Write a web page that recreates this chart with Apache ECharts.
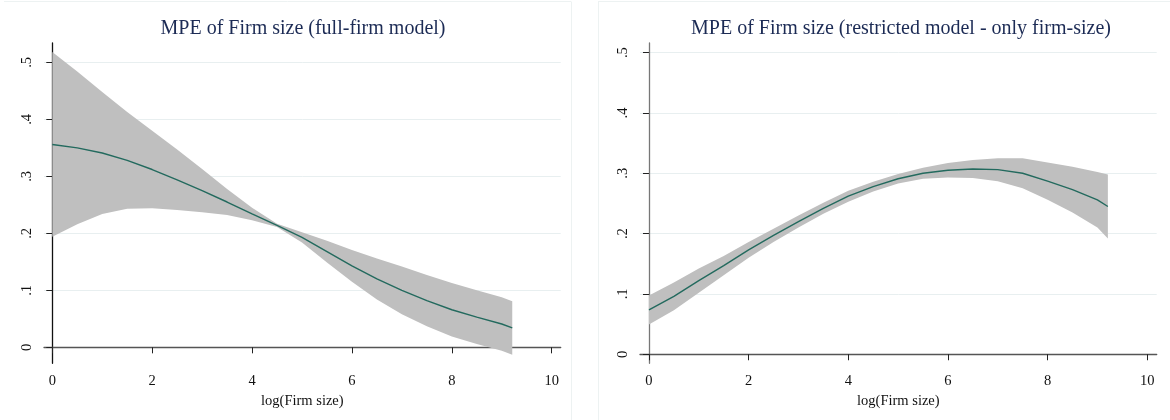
<!DOCTYPE html>
<html>
<head>
<meta charset="utf-8">
<script src="https://cdn.jsdelivr.net/npm/echarts@6/dist/echarts.min.js"></script>
<style>html,body{margin:0;padding:0;background:#fff;}#c{width:1170px;height:420px;}</style>
</head>
<body>
<div id="c"></div>
<script>
// ---- data ----
const xs = [0,0.5,1,1.5,2,2.5,3,3.5,4,4.5,5,5.5,6,6.5,7,7.5,8,8.5,9,9.21];

const fullLine  = [0.356,0.350,0.341,0.328,0.312,0.294,0.275,0.255,0.234,0.214,0.193,0.168,0.143,0.120,0.100,0.082,0.066,0.053,0.041,0.034];
const fullUpper = [0.518,0.484,0.448,0.413,0.380,0.347,0.313,0.278,0.245,0.217,0.202,0.187,0.171,0.156,0.142,0.127,0.113,0.100,0.088,0.081];
const fullLower = [0.194,0.216,0.234,0.243,0.244,0.241,0.237,0.232,0.223,0.211,0.184,0.149,0.115,0.084,0.058,0.037,0.019,0.006,-0.006,-0.013];

const restLine  = [0.0735,0.096,0.122,0.147,0.173,0.197,0.220,0.242,0.262,0.278,0.291,0.300,0.305,0.307,0.306,0.300,0.287,0.273,0.256,0.245];
const restUpper = [0.0975,0.119,0.142,0.163,0.186,0.208,0.230,0.251,0.271,0.286,0.299,0.309,0.317,0.322,0.325,0.325,0.318,0.311,0.302,0.298];
const restLower = [0.0495,0.073,0.102,0.131,0.160,0.186,0.210,0.233,0.253,0.270,0.283,0.291,0.293,0.292,0.287,0.275,0.256,0.235,0.210,0.192];

const xTicks = [0,2,4,6,8,10];
const yTicks = [0,0.1,0.2,0.3,0.4,0.5];

const titles = ['MPE of Firm size (full-firm model)', 'MPE of Firm size (restricted model - only firm-size)'];
const xName = 'log(Firm size)';

// ---- chart ----
const FONT = '"Liberation Serif", "DejaVu Serif", serif';
const pairs = (a) => xs.map((x, i) => [x, a[i]]);
const yFmt = (v) => (Math.abs(v) < 1e-9 ? '0' : '.' + Math.round(v * 10));

function xAxisCfg(idx, min, max, color) {
  return {
    type: 'value', gridIndex: idx, min: min, max: max,
    name: xName, nameLocation: 'middle', nameGap: 25,
    nameTextStyle: { fontFamily: FONT, fontSize: 14.5, color: '#111' },
    axisLine: { show: true, lineStyle: { color: color, width: 1.3 } },
    axisTick: { show: true, length: 6, lineStyle: { color: '#222' }, customValues: xTicks },
    axisLabel: { fontFamily: FONT, fontSize: 14.5, color: '#111', margin: 10, customValues: xTicks },
    splitLine: { show: false }
  };
}
function yAxisCfg(idx, min, max, color) {
  return {
    type: 'value', gridIndex: idx, min: min, max: max,
    axisLine: { show: true, lineStyle: { color: color, width: 1.3 } },
    axisTick: { show: true, length: 6, lineStyle: { color: '#222' }, customValues: yTicks },
    axisLabel: { fontFamily: FONT, fontSize: 14.5, color: '#111', margin: 9, rotate: 90,
                 customValues: yTicks, formatter: yFmt },
    splitLine: { show: true, lineStyle: { color: '#e8eff0', width: 1 } }
  };
}
// confidence band: one polygon built from upper edge then lower edge reversed, via api.coord
function bandSeries(idx, upper, lower) {
  return {
    type: 'custom', xAxisIndex: idx, yAxisIndex: idx, silent: true, z: 1, clip: false,
    data: [[xs[0], lower[0]]],
    encode: { x: 0, y: 1 },
    renderItem: function (params, api) {
      const pts = [];
      for (let i = 0; i < xs.length; i++) pts.push(api.coord([xs[i], upper[i]]));
      for (let i = xs.length - 1; i >= 0; i--) pts.push(api.coord([xs[i], lower[i]]));
      return { type: 'polygon', shape: { points: pts }, style: { fill: '#bfbfbf', stroke: null } };
    }
  };
}
function lineSeries(idx, vals) {
  return { type: 'line', xAxisIndex: idx, yAxisIndex: idx, data: pairs(vals), symbol: 'none',
           lineStyle: { color: '#236a5e', width: 1.4 }, silent: true, z: 3 };
}

const chart = echarts.init(document.getElementById('c'), null, { renderer: 'canvas' });
chart.setOption({
  animation: false,
  backgroundColor: '#ffffff',
  title: [
    { text: titles[0], left: 303, top: 19, textAlign: 'center', padding: 0,
      textStyle: { fontFamily: FONT, fontSize: 20, fontWeight: 'normal', color: '#1c2b55' } },
    { text: titles[1], left: 901, top: 19, textAlign: 'center', padding: 0,
      textStyle: { fontFamily: FONT, fontSize: 20, fontWeight: 'normal', color: '#1c2b55' } }
  ],
  grid: [
    { left: 44, top: 43, width: 516.7, height: 320.3 },
    { left: 640, top: 43, width: 516.7, height: 320.3 }
  ],
  xAxis: [ xAxisCfg(0, -0.166, 10.18, '#555'), xAxisCfg(1, -0.18, 10.19, '#555') ],
  yAxis: [ yAxisCfg(0, -0.028, 0.534, '#111'), yAxisCfg(1, -0.015, 0.516, '#777') ],
  series: [
    bandSeries(0, fullUpper, fullLower),
    lineSeries(0, fullLine),
    bandSeries(1, restUpper, restLower),
    lineSeries(1, restLine)
  ],
  graphic: [
    { type: 'line', shape: { x1: 4, y1: 1.5, x2: 571, y2: 1.5 }, style: { stroke: '#edf2f2', lineWidth: 1 }, silent: true },
    { type: 'line', shape: { x1: 571.5, y1: 1.5, x2: 571.5, y2: 420 }, style: { stroke: '#edf2f2', lineWidth: 1 }, silent: true },
    { type: 'line', shape: { x1: 598.5, y1: 1.5, x2: 598.5, y2: 420 }, style: { stroke: '#edf2f2', lineWidth: 1 }, silent: true },
    { type: 'line', shape: { x1: 598, y1: 1.5, x2: 1170, y2: 1.5 }, style: { stroke: '#edf2f2', lineWidth: 1 }, silent: true }
  ]
});
</script>
</body>
</html>
